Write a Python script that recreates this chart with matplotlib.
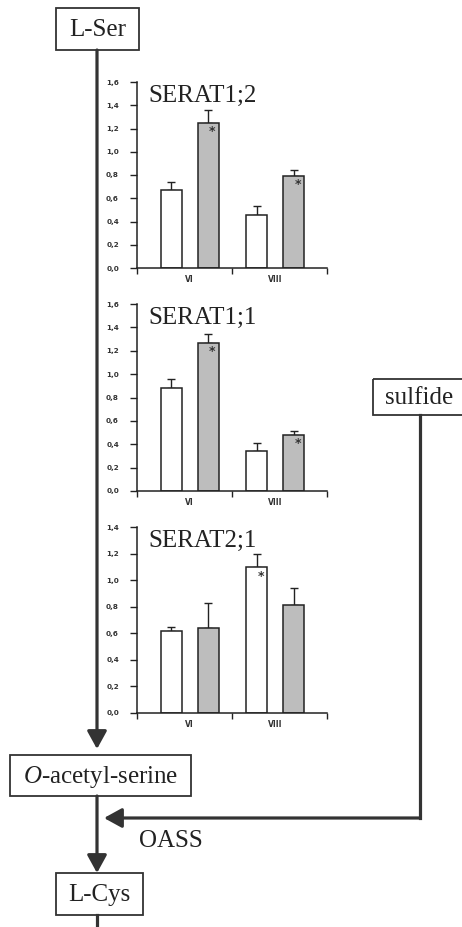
import numpy as np
import matplotlib
matplotlib.use("Agg")
import matplotlib.pyplot as plt
from matplotlib.patches import Rectangle

plt.rcParams["mathtext.fontset"] = "custom"
plt.rcParams["mathtext.rm"] = "Liberation Serif"
plt.rcParams["mathtext.it"] = "Liberation Serif:italic"

W, H = 462, 927
SERIF = "Liberation Serif"
LINE = "#333333"

# ── data ────────────────────────────────────────────────────────────────
categories = ["VI", "VIII"]
genes = ["SERAT1;2", "SERAT1;1", "SERAT2;1"]

serat12_white = [0.67, 0.46]
serat12_white_err = [0.07, 0.07]
serat12_gray = [1.25, 0.79]
serat12_gray_err = [0.11, 0.05]

serat11_white = [0.88, 0.34]
serat11_white_err = [0.08, 0.07]
serat11_gray = [1.27, 0.48]
serat11_gray_err = [0.07, 0.03]

serat21_white = [0.62, 1.10]
serat21_white_err = [0.03, 0.10]
serat21_gray = [0.64, 0.81]
serat21_gray_err = [0.19, 0.13]

# significance stars: (series, category index)
serat12_stars = [("gray", 0), ("gray", 1)]
serat11_stars = [("gray", 0), ("gray", 1)]
serat21_stars = [("white", 1)]

yticks_16 = [0.0, 0.2, 0.4, 0.6, 0.8, 1.0, 1.2, 1.4, 1.6]
yticks_14 = [0.0, 0.2, 0.4, 0.6, 0.8, 1.0, 1.2, 1.4]

panels = [
    (genes[0], serat12_white, serat12_white_err, serat12_gray, serat12_gray_err, serat12_stars, yticks_16, (82, 268)),
    (genes[1], serat11_white, serat11_white_err, serat11_gray, serat11_gray_err, serat11_stars, yticks_16, (304, 491)),
    (genes[2], serat21_white, serat21_white_err, serat21_gray, serat21_gray_err, serat21_stars, yticks_14, (527, 713)),
]

AX_LEFT, AX_RIGHT = 137, 327
GROUP_X = np.array([0.555, 1.455])
OFFSET = 0.195
BAR_W = 0.22


def fig_rect(x0, y0, x1, y1):
    return [x0 / W, 1 - y1 / H, (x1 - x0) / W, (y1 - y0) / H]


fig = plt.figure(figsize=(W / 100, H / 100), dpi=100)

# ── pathway diagram overlay ─────────────────────────────────────────────
bg = fig.add_axes([0, 0, 1, 1])
bg.set_xlim(0, W)
bg.set_ylim(H, 0)
bg.axis("off")


def box(x0, y0, x1, y1, label):
    bg.add_patch(Rectangle((x0, y0), x1 - x0, y1 - y0, fill=False,
                           edgecolor=LINE, lw=1.3))
    bg.text((x0 + x1) / 2, (y0 + y1) / 2 + 1, label, ha="center", va="center",
            fontsize=18, family=SERIF, color="#222222")


def arrow(p0, p1):
    bg.annotate("", xy=p1, xytext=p0,
                arrowprops=dict(arrowstyle="-|>,head_length=0.6,head_width=0.33",
                                mutation_scale=18, lw=2.3, color=LINE,
                                shrinkA=0, shrinkB=0))


box(56, 8, 139, 50, "L-Ser")
box(10, 755, 191, 796, r"$\it{O}$-acetyl-serine")
box(56, 873, 143, 915, "L-Cys")
box(373, 379, 465, 415, "sulfide")

arrow((97, 50), (97, 749))
arrow((97, 796), (97, 873))
bg.plot([420, 420], [415, 818], color=LINE, lw=2.3, solid_capstyle="projecting")
arrow((420, 818), (104, 818))
bg.plot([97, 97], [915, 930], color=LINE, lw=2.3)
bg.text(139, 841, "OASS", ha="left", va="center", fontsize=18,
        family=SERIF, color="#222222")

# ── bar panels ──────────────────────────────────────────────────────────
for name, white, white_err, gray, gray_err, stars, yticks, (top, bottom) in panels:
    ax = fig.add_axes(fig_rect(AX_LEFT, top, AX_RIGHT, bottom))
    ax.set_facecolor("none")
    xw = GROUP_X - OFFSET
    xg = GROUP_X + OFFSET
    ax.bar(xw, white, width=BAR_W, color="white", edgecolor="#222222", lw=1.1, zorder=2)
    ax.bar(xg, gray, width=BAR_W, color="#bdbdbd", edgecolor="#222222", lw=1.1, zorder=2)
    ax.errorbar(xw, white, yerr=[np.zeros(len(white)), white_err], fmt="none",
                ecolor="#222222", elinewidth=1.0, capsize=3, capthick=1.0, zorder=1)
    ax.errorbar(xg, gray, yerr=[np.zeros(len(gray)), gray_err], fmt="none",
                ecolor="#222222", elinewidth=1.0, capsize=3, capthick=1.0, zorder=1)

    vals = {"white": (xw, white), "gray": (xg, gray)}
    for series, i in stars:
        xs, ys = vals[series]
        ax.text(xs[i] + 0.04, ys[i] - 0.02, "*", ha="center", va="top",
                fontsize=9, fontweight="bold", color="#333333", zorder=3)

    ax.set_xlim(0, 2)
    ax.set_ylim(0, yticks[-1])
    ax.set_yticks(yticks)
    ax.set_yticklabels([f"{t:.1f}".replace(".", ",") for t in yticks])
    ax.set_xticks([0, 1, 2])
    ax.set_xticklabels([])
    ax.set_xticks(GROUP_X, minor=True)
    ax.set_xticklabels(categories, minor=True)
    ax.tick_params(axis="x", which="major", direction="out", length=4, width=1.0, color="#222222")
    ax.tick_params(axis="x", which="minor", length=0, pad=5, labelsize=5.5)
    ax.tick_params(axis="y", direction="out", length=5, width=1.0, pad=8,
                   labelsize=5.2, color="#222222")
    for lab in ax.get_yticklabels() + ax.get_xticklabels(minor=True):
        lab.set_fontweight("bold")
        lab.set_color("#333333")
    for side in ("top", "right"):
        ax.spines[side].set_visible(False)
    for side in ("left", "bottom"):
        ax.spines[side].set_linewidth(1.1)
        ax.spines[side].set_color("#222222")

    ax.text(0.058, 0.895, name, transform=ax.transAxes, ha="left", va="baseline",
            fontsize=18, family=SERIF, color="#222222")

fig.savefig("out.png", dpi=100)
